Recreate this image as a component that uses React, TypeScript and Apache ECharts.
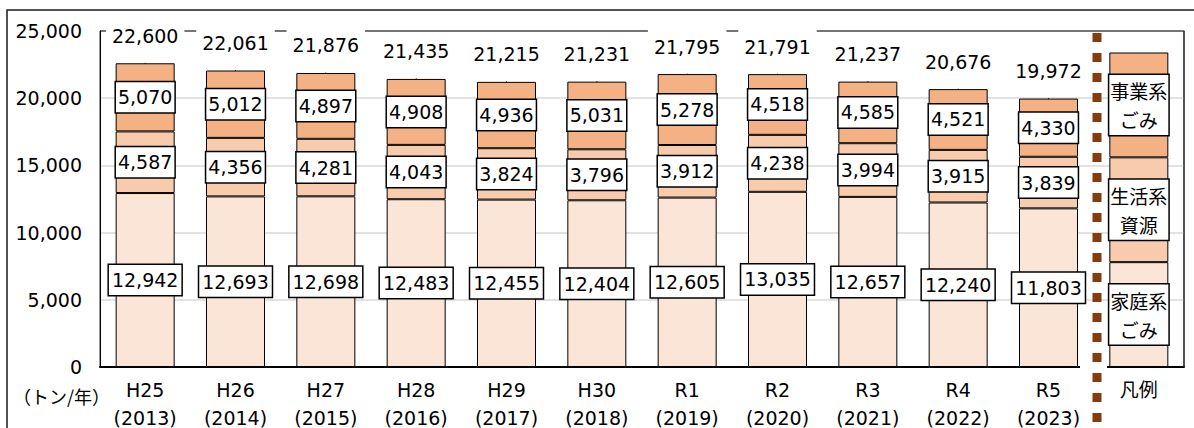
import React, { useEffect, useRef } from "react";
import * as echarts from "echarts";

// Categories: fiscal years plus a final "凡例" column that explains the stack
const categories = [
  "H25\n(2013)", "H26\n(2014)", "H27\n(2015)", "H28\n(2016)", "H29\n(2017)",
  "H30\n(2018)", "R1\n(2019)", "R2\n(2020)", "R3\n(2021)", "R4\n(2022)",
  "R5\n(2023)", "凡例",
];

// Annual amounts (トン/年)
const household = [12942, 12693, 12698, 12483, 12455, 12404, 12605, 13035, 12657, 12240, 11803];
const resources = [4587, 4356, 4281, 4043, 3824, 3796, 3912, 4238, 3994, 3915, 3839];
const business = [5070, 5012, 4897, 4908, 4936, 5031, 5278, 4518, 4585, 4521, 4330];
const totals = [22600, 22061, 21876, 21435, 21215, 21231, 21795, 21791, 21237, 20676, 19972];

// Segment heights used by the explanatory bar in the "凡例" column
const legendSample = [7800, 7800, 7800];

const seriesNames = ["家庭系ごみ", "生活系資源", "事業系ごみ"];
const legendTexts = ["家庭系\nごみ", "生活系\n資源", "事業系\nごみ"];
const seriesColors = ["#FBE5D6", "#F8CBAD", "#F4B183"];

const yMin = 0;
const yMax = 25000;
const yInterval = 5000;

const NUM_FONT = "'DejaVu Sans', 'Noto Sans CJK JP', sans-serif";
const JP_FONT = "'Noto Sans CJK JP', sans-serif";

const fmt = (v: number) => v.toLocaleString("en-US");

export default function App() {
  const ref = useRef<HTMLDivElement>(null);

  useEffect(() => {
    if (!ref.current) return;
    const chart = echarts.init(ref.current, null, { renderer: "svg" });

    const values = [household, resources, business];

    const barSeries = values.map((vals, si) => ({
      name: seriesNames[si],
      type: "bar",
      stack: "total",
      barWidth: 59,
      itemStyle: { color: seriesColors[si], borderColor: "#000", borderWidth: 1 },
      label: {
        show: true,
        position: "inside",
        color: "#000",
        fontFamily: NUM_FONT,
        fontSize: 19,
        lineHeight: 20,
        backgroundColor: "#fff",
        borderColor: "#000",
        borderWidth: 1.5,
        padding: si === 0 ? [5, 3] : [5, 2],
        formatter: (p: any) =>
          p.dataIndex === categories.length - 1 ? legendTexts[si] : fmt(p.value),
      },
      data: [
        ...vals,
        {
          value: legendSample[si],
          label: {
            fontFamily: JP_FONT,
            fontSize: 19,
            lineHeight: 29,
            padding: [1, 1],
          },
        },
      ],
    }));

    const option: any = {
      animation: false,
      grid: {
        left: 100,
        right: 10,
        top: 31,
        bottom: 61,
        show: true,
        borderColor: "#333",
        borderWidth: 1,
        containLabel: false,
        outerBoundsMode: "none",
      },
      xAxis: {
        type: "category",
        data: categories,
        axisLine: { show: true, lineStyle: { color: "#000", width: 2 } },
        axisTick: { show: false },
        axisLabel: {
          color: "#000",
          fontFamily: NUM_FONT,
          fontSize: 19,
          lineHeight: 28,
          margin: 9,
          interval: 0,
        },
      },
      yAxis: {
        type: "value",
        min: yMin,
        max: yMax,
        interval: yInterval,
        axisLine: { show: true, lineStyle: { color: "#000", width: 1 } },
        axisTick: { show: false },
        axisLabel: {
          color: "#000",
          fontFamily: NUM_FONT,
          fontSize: 19,
          margin: 18,
          formatter: (v: number) => fmt(v),
        },
        splitLine: { show: true, lineStyle: { color: "#D9D9D9", width: 1.5 } },
      },
      series: [
        ...barSeries,
        {
          name: "合計",
          type: "scatter",
          symbol: "circle",
          symbolSize: 1,
          itemStyle: { color: "#000", opacity: 1 },
          z: 5,
          label: {
            show: true,
            position: "top",
            distance: 9,
            color: "#000",
            opacity: 1,
            fontFamily: NUM_FONT,
            fontSize: 19,
            lineHeight: 20,
            backgroundColor: "#fff",
            padding: [8, 6],
            formatter: (p: any) => fmt(p.value),
          },
          data: [...totals, "-"],
        },
      ],
      graphic: [
        {
          type: "rect",
          shape: { x: 7, y: 10, width: 1200, height: 430 },
          style: { fill: "none", stroke: "#1a1a1a", lineWidth: 1.5 },
          silent: true,
          z: 10,
        },
        // plot-area top and right edges, kept above the split lines but under the total labels
        {
          type: "polyline",
          shape: { points: [[100, 31], [1184, 31], [1184, 367]] },
          style: { stroke: "#222", lineWidth: 1.2, fill: "none" },
          silent: true,
          z: 3,
        },
        {
          type: "rect",
          shape: { x: 1080, y: 363, width: 27, height: 7 },
          style: { fill: "#fff" },
          silent: true,
          z: 20,
        },
        {
          type: "line",
          shape: { x1: 1097, y1: 33, x2: 1097, y2: 428 },
          style: { stroke: "#843C0C", lineWidth: 9, lineDash: [9, 11] },
          silent: true,
          z: 30,
        },
        {
          type: "text",
          x: 13,
          y: 396,
          style: {
            text: "（トン/年）",
            fill: "#000",
            font: `18px ${JP_FONT}`,
            textVerticalAlign: "middle",
          },
          silent: true,
          z: 10,
        },
      ],
    };

    chart.setOption(option);
    return () => chart.dispose();
  }, []);

  return (
    <div
      ref={ref}
      style={{ position: "fixed", left: 0, top: 0, width: 1194, height: 428, background: "#fff" }}
    />
  );
}
